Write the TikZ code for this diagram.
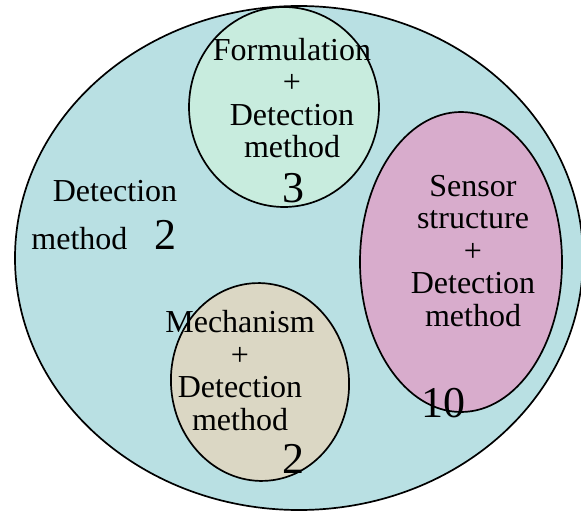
\documentclass[tikz,border=0pt]{standalone}
\usepackage{fontspec}
\setmainfont{Liberation Serif}
\usepackage{tikz}
\usetikzlibrary{shapes.geometric}
\usepackage{xcolor}
\definecolor{fieldblue}{RGB}{185, 224, 227}
\definecolor{formgreen}{RGB}{200, 236, 222}
\definecolor{sensorpink}{RGB}{216, 172, 204}
\definecolor{mechbeige}{RGB}{219, 215, 196}

\begin{document}
\begin{tikzpicture}[x=1pt, y=-1pt,
    region/.style={draw=black, line width=1.7pt, ellipse, inner sep=0pt},
    label/.style={align=center, anchor=base, font=\fontsize{32}{32.5}\selectfont},
    count/.style={anchor=base, font=\fontsize{44}{44}\selectfont}]
  \clip (0,0) rectangle (581,513);
  \node[region, fill=fieldblue, minimum width=568, minimum height=504] (field) at (299,258) {};
  \node[region, fill=formgreen, minimum width=190, minimum height=200] (formula) at (284,107) {};
  \node[region, fill=sensorpink, minimum width=202, minimum height=300] (sensor) at (461,262) {};
  \node[region, fill=mechbeige, minimum width=178, minimum height=198, rotate=5] (mech) at (260,382) {};

  \node[label] (fieldtxt) at (115,202) {Detection};
  \node[label, anchor=base east] (fieldtxt2) at (131,250) {method};
  \node[count] (fieldnum) at (165,250) {2};

  % base anchor sits on the last line
  \node[label] (formtxt) at (292,158) {Formulation\\+\\Detection\\method};
  \node[count] (formnum) at (293,203) {3};

  \node[label] (sensortxt) at (473,326) {Sensor\\structure\\+\\Detection\\method};
  \node[count] (sensornum) at (443,417) {10};

  \node[label] (mechtxt) at (240,430) {Mechanism\\+\\Detection\\method};
  \node[count] (mechnum) at (293,473) {2};
\end{tikzpicture}
\end{document}
